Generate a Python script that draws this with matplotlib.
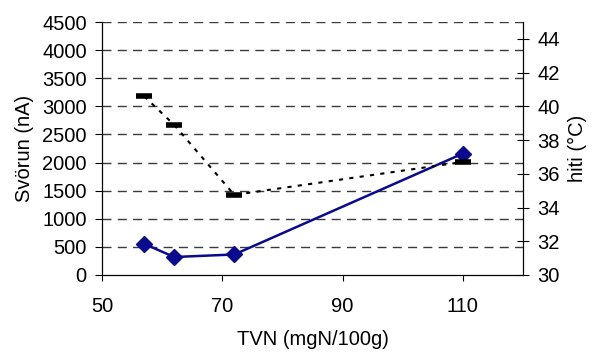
import numpy as np
from matplotlib import pyplot as plt

plt.rcParams['font.family'] = ['Liberation Sans', 'DejaVu Sans']
plt.rcParams['font.size'] = 14.5

# TVN (mgN/100g)
tvn       = [57, 62, 72, 110]
# Response (nA)
svorun    = [555, 320, 365, 2160]
# Temperature (C)
hiti      = [40.6, 38.9, 34.75, 36.7]

fig = plt.figure(figsize=(5.92, 3.52), dpi=100)
ax = fig.add_axes([102/592, 1 - 275/352, 421/592, 253/352])

# dashed horizontal gridlines at each left tick
for y in range(500, 4501, 500):
    ax.axhline(y, color='#3a3a3a', linestyle=(0, (6.5, 4.5)), linewidth=1.0, zorder=0)

ax.plot(tvn, svorun, color='#0a0a8c', linewidth=1.8, marker='D',
        markersize=8, zorder=3)
ax.set_xlim(50, 120)
ax.set_ylim(0, 4500)
ax.set_xticks([50, 70, 90, 110])
ax.set_yticks(np.arange(0, 4501, 500))
ax.spines['top'].set_visible(False)
ax.set_xlabel('TVN (mgN/100g)', labelpad=10)
ax.set_ylabel('Svörun (nA)', labelpad=6)
ax.tick_params(axis='x', direction='out', length=4, pad=12)
ax.tick_params(axis='y', direction='out', length=5, pad=6)

ax2 = ax.twinx()
ax2.plot(tvn, hiti, color='black', linestyle=(0, (2, 3)), linewidth=1.5,
         marker='_', markersize=12, markeredgewidth=4, zorder=2)
ax2.set_ylim(30, 45)
ax2.set_yticks(np.arange(30, 45, 2))
ax2.spines['top'].set_visible(False)
ax2.set_ylabel('hiti (°C)', labelpad=6)
ax2.tick_params(axis='y', direction='inout', length=9, pad=6)

fig.savefig('out.png', dpi=100)
